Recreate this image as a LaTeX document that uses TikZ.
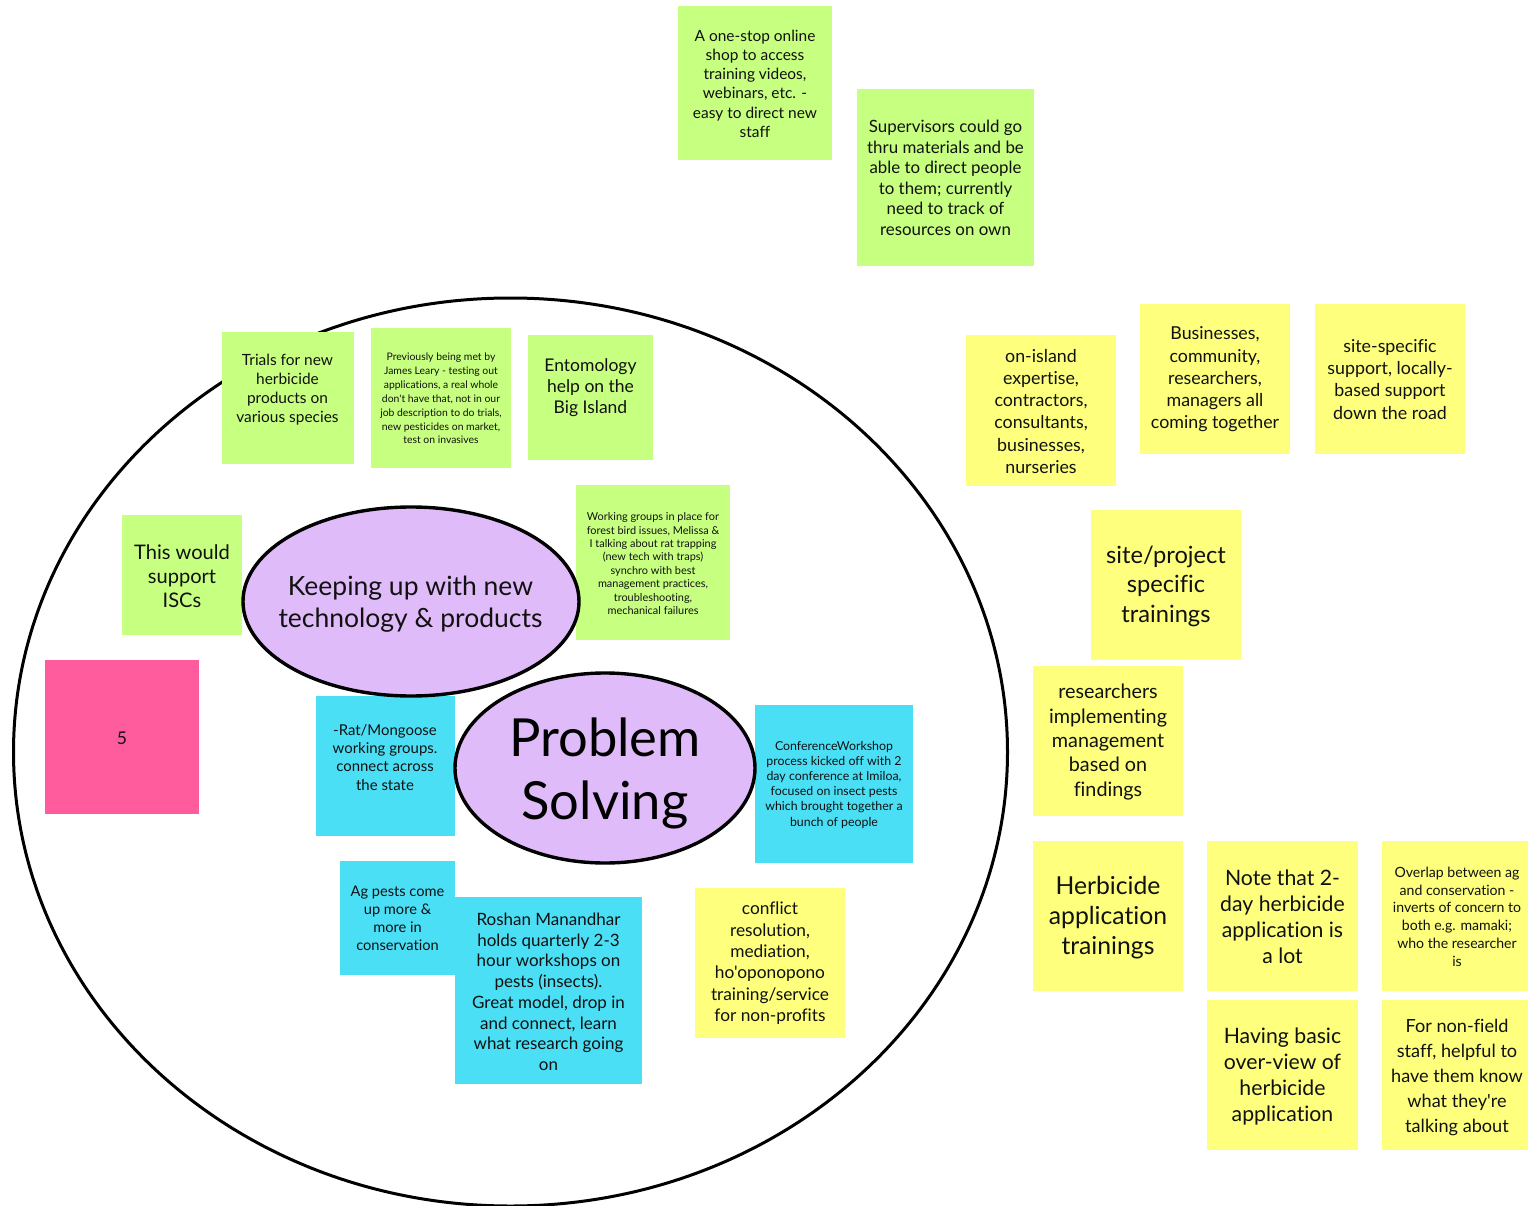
\documentclass[tikz,border=0pt]{standalone}
\usepackage{fontspec}
\setmainfont{Lato}[Ligatures={TeXOff,CommonOff}]
\usetikzlibrary{shapes.geometric}
\definecolor{ngreen}{HTML}{C7FF80}
\definecolor{nyellow}{HTML}{FDFF7D}
\definecolor{nblue}{HTML}{4BDFF5}
\definecolor{npink}{HTML}{FF5C9E}
\definecolor{npurple}{HTML}{E0BBFA}
\definecolor{ink}{HTML}{111111}
\tikzset{
  sticky/.style={fill=#1,draw=none,inner sep=0pt,outer sep=0pt,anchor=north west},
  notetext/.style={text=ink,inner sep=0pt,align=center,anchor=center},
  bubble/.style={ellipse,fill=npurple,draw=black,line width=3.4pt,inner sep=0pt,outer sep=0pt},
}
% name, x0, y0, x1, y1, colour, text x, text y, size, leading, text
\newcommand{\sticknote}[9]{%
  \def\nname{#1}\def\nxa{#2}\def\nya{#3}\def\nxb{#4}\def\nyb{#5}\def\ncol{#6}\def\ntx{#7}\def\nty{#8}\def\nsz{#9}\sticknoteb}
\newcommand{\sticknoteb}[2]{%
  \pgfmathsetmacro{\nw}{\nxb-\nxa}\pgfmathsetmacro{\nh}{\nyb-\nya}%
  \pgfmathsetmacro{\nfs}{\nsz*1.03}\pgfmathsetmacro{\nyt}{\nty+0.05*\nsz}%
  \node[sticky=\ncol,minimum width=\nw pt,minimum height=\nh pt] (\nname) at (\nxa,\nya) {};
  \node[notetext,font=\fontsize{\nfs}{#1}\selectfont] (\nname t) at (\ntx,\nyt) {#2};}
\begin{document}
\begin{tikzpicture}[x=1pt,y=-1pt]
\useasboundingbox (0,0) rectangle (1528,1206);
\fill[white] (0,0) rectangle (1528,1206);
\begin{scope}
\clip (0,0) rectangle (1528,1206);
\node[ellipse,draw=black,line width=3pt,minimum width=994pt,minimum height=908pt,inner sep=0pt] (circle) at (510.5,752) {};
\end{scope}
\sticknote{n1}{678}{6}{832}{160}{ngreen}{755}{83}{15}{19.2}{A one-stop online\\shop to access\\training videos,\\webinars, etc. -\\easy to direct new\\staff}
\sticknote{n2}{857}{89}{1034}{266}{ngreen}{945.5}{177}{16.4}{20.6}{Supervisors could go\\thru materials and be\\able to direct people\\to them; currently\\need to track of\\resources on own}
\sticknote{n3}{966}{335}{1116}{486}{nyellow}{1041}{410.5}{17.3}{22.2}{on-island\\expertise,\\contractors,\\consultants,\\businesses,\\nurseries}
\sticknote{n4}{1140}{304}{1290}{454}{nyellow}{1215}{378.5}{17.3}{22.2}{Businesses,\\community,\\researchers,\\managers all\\coming together}
\sticknote{n5}{1315}{304}{1465}{454}{nyellow}{1390}{378.5}{17.3}{22.2}{site-specific\\support, locally-\\based support\\down the road}
\sticknote{n6}{1091}{510}{1241}{660}{nyellow}{1166}{585}{23}{29.5}{site/project\\specific\\trainings}
\sticknote{n7}{1033}{666}{1183}{816}{nyellow}{1108}{741}{19.2}{24.4}{researchers\\implementing\\management\\based on\\findings}
\sticknote{n8}{1033}{841}{1183}{991}{nyellow}{1108}{916}{24}{30}{Herbicide\\application\\trainings}
\sticknote{n9}{1207}{841}{1358}{991}{nyellow}{1282.5}{916}{20.6}{26}{Note that 2-\\day herbicide\\application is\\a lot}
\sticknote{n10}{1382}{841}{1528}{991}{nyellow}{1457}{916}{13.7}{17.8}{Overlap between ag\\and conservation -\\inverts of concern to\\both e.g. mamaki;\\who the researcher\\is}
\sticknote{n11}{1207}{1000}{1358}{1150}{nyellow}{1282.5}{1075}{20.6}{26}{Having basic\\over-view of\\herbicide\\application}
\sticknote{n12}{1382}{1000}{1528}{1150}{nyellow}{1457}{1076.5}{17.6}{24.8}{For non-field\\staff, helpful to\\have them know\\what they're\\talking about}
\sticknote{n13}{222}{332}{354}{464}{ngreen}{287.5}{388.5}{15}{19}{Trials for new\\herbicide\\products on\\various species}
\sticknote{n14}{371}{328}{511}{468}{ngreen}{441}{398}{10.1}{13.9}{Previously being met by\\James Leary - testing out\\applications, a real whole\\don't have that, not in our\\job description to do trials,\\new pesticides on market,\\test on invasives}
\sticknote{n15}{528}{335}{653}{460}{ngreen}{590.5}{387}{17}{21}{Entomology\\help on the\\Big Island}
\sticknote{n16}{576}{485}{730}{640}{ngreen}{653}{563}{10.6}{13.4}{Working groups in place for\\forest bird issues, Melissa \&\\I talking about rat trapping\\(new tech with traps)\\synchro with best\\management practices,\\troubleshooting,\\mechanical failures}
\sticknote{n17}{122}{515}{242}{635}{ngreen}{182}{575}{19.5}{24}{This would\\support\\ISCs}
\sticknote{n18}{45}{660}{199}{814}{npink}{122}{737}{17}{18}{5}
\sticknote{n19}{316}{696}{455}{836}{nblue}{385}{756.5}{14.5}{18.3}{-Rat/Mongoose\\working groups.\\connect across\\the state}
\sticknote{n20}{755}{705}{913}{863}{nblue}{834}{784}{12}{15.2}{ConferenceWorkshop\\process kicked off with 2\\day conference at Imiloa,\\focused on insect pests\\which brought together a\\bunch of people}
\sticknote{n21}{340}{861}{455}{975}{nblue}{397.5}{918}{14.2}{18}{Ag pests come\\up more \&\\more in\\conservation}
\sticknote{n22}{455}{897}{642}{1084}{nblue}{548.5}{991}{16.5}{20.7}{Roshan Manandhar\\holds quarterly 2-3\\hour workshops on\\pests (insects).\\Great model, drop in\\and connect, learn\\what research going\\on}
\sticknote{n23}{695}{888}{845}{1038}{nyellow}{770}{962.5}{16.8}{21.3}{conflict\\resolution,\\mediation,\\ho'oponopono\\training/service\\for non-profits}
\node[bubble,minimum width=336pt,minimum height=189pt] (keeping) at (411,601.5) {};
\node[notetext,font=\fontsize{26.5}{31.5}\selectfont] (keepingt) at (410.5,604) {Keeping up with new\\technology \& products};
\node[bubble,minimum width=300pt,minimum height=190pt] (problem) at (605,768) {};
\node[notetext,text=black,font=\fontsize{52.5}{63}\selectfont] (problemt) at (605,773) {Problem\\Solving};
\end{tikzpicture}
\end{document}
